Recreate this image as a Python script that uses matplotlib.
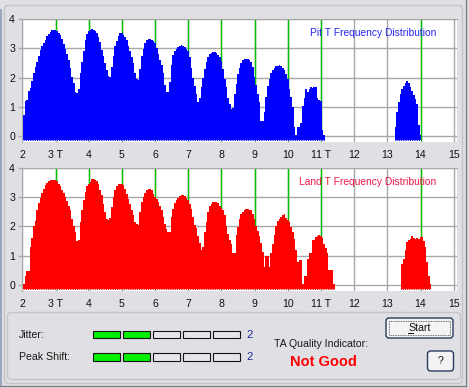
import numpy as np
import matplotlib
matplotlib.use('Agg')
import matplotlib.pyplot as plt
from matplotlib.patches import FancyBboxPatch, Rectangle

plt.rcParams['font.family'] = ['Liberation Sans', 'DejaVu Sans']

# histogram bins are 0.05 T wide
BIN = 0.05
pit_start = 2.00
pit_vals = [0.62, 0.72, 1.2, 1.23, 1.55, 1.65, 1.9, 2.15, 2.35, 2.55,
            2.75, 2.95, 3.1, 3.2, 3.3, 3.42, 3.5, 3.57, 3.63, 3.64,
            3.63, 3.6, 3.53, 3.45, 3.33, 3.15, 2.97, 2.8, 2.59, 2.32,
            2.02, 1.8, 1.52, 1.46, 1.6, 2.15, 2.55, 2.9, 3.3, 3.5,
            3.6, 3.64, 3.67, 3.65, 3.6, 3.52, 3.4, 3.22, 2.95, 2.75,
            2.5, 2.25, 2.05, 2.03, 2.35, 2.75, 3.08, 3.25, 3.42, 3.52,
            3.52, 3.47, 3.38, 3.28, 3.1, 2.9, 2.7, 2.5, 2.15, 1.95,
            1.92, 2.3, 2.75, 2.98, 3.18, 3.3, 3.33, 3.33, 3.3, 3.25,
            3.17, 3.02, 2.8, 2.6, 2.44, 2.15, 1.75, 1.52, 1.49, 1.86,
            2.44, 2.76, 2.9, 2.98, 3.06, 3.1, 3.13, 3.1, 3.05, 2.98,
            2.9, 2.69, 2.34, 1.98, 1.71, 1.43, 1.15, 1.29, 1.66, 2.0,
            2.3, 2.53, 2.71, 2.8, 2.85, 2.87, 2.87, 2.84, 2.78, 2.69,
            2.57, 2.3, 1.95, 1.66, 1.31, 1.08, 0.92, 0.94, 1.43, 1.77,
            2.11, 2.34, 2.49, 2.59, 2.63, 2.64, 2.64, 2.6, 2.53, 2.38,
            2.03, 1.75, 1.43, 1.17, 0.51, 0.51, 0.83, 1.34, 1.72, 1.95,
            2.15, 2.26, 2.34, 2.39, 2.41, 2.44, 2.4, 2.34, 2.26, 2.11,
            1.95, 1.61, 1.34, 1.0, 0.31, 0.02, 0.31, 0.31, 0.43, 1.03,
            1.29, 1.61, 1.49, 1.61, 1.66, 1.63, 1.68, 1.66, 1.29, 1.23,
            1.2, 0.2, 0.02]
pit14_start = 13.25
pit14_vals = [0.31, 0.83, 1.15, 1.43, 1.61, 1.72, 1.8, 1.89, 1.8, 1.66,
              1.54, 1.4, 1.26, 1.08, 0.37, 0.02]

land_start = 2.00
land_vals = [0.02, 0.02, 0.31, 0.48, 0.48, 1.3, 1.6, 2.03, 2.2, 2.55,
             2.8, 2.99, 3.15, 3.3, 3.41, 3.51, 3.56, 3.59, 3.6, 3.61,
             3.59, 3.55, 3.47, 3.38, 3.26, 3.15, 3.01, 2.87, 2.72, 2.55,
             2.26, 2.03, 1.8, 1.49, 1.55, 2.15, 2.55, 2.9, 3.18, 3.39,
             3.45, 3.53, 3.62, 3.64, 3.61, 3.56, 3.45, 3.26, 3.07, 2.78,
             2.49, 2.26, 2.23, 2.3, 2.67, 3.01, 3.24, 3.38, 3.45, 3.47,
             3.47, 3.41, 3.3, 3.13, 2.95, 2.78, 2.57, 2.38, 2.15, 2.07,
             2.06, 2.49, 2.84, 3.01, 3.15, 3.24, 3.28, 3.29, 3.24, 3.1,
             3.03, 2.95, 2.84, 2.69, 2.55, 2.34, 2.09, 1.92, 1.8, 1.8,
             2.32, 2.6, 2.8, 2.92, 2.99, 3.05, 3.07, 3.08, 3.05, 2.99,
             2.92, 2.76, 2.61, 2.32, 2.06, 1.95, 1.66, 1.43, 1.2, 1.3,
             1.8, 2.15, 2.49, 2.69, 2.78, 2.83, 2.84, 2.83, 2.8, 2.72,
             2.64, 2.55, 2.41, 2.03, 1.75, 1.54, 1.4, 1.08, 1.1, 1.69,
             1.98, 2.26, 2.44, 2.49, 2.55, 2.59, 2.59, 2.57, 2.55, 2.44,
             2.26, 2.03, 1.86, 1.66, 1.43, 1.11, 0.62, 0.97, 0.97, 0.62,
             1.08, 1.4, 1.69, 2.03, 2.18, 2.26, 2.32, 2.38, 2.44, 2.3,
             2.23, 2.15, 1.98, 1.8, 1.57, 1.2, 0.77, 0.85, 0.85, 0.02,
             0.31, 0.31, 0.89, 1.08, 1.08, 1.52, 1.52, 1.65, 1.67, 1.7,
             1.68, 1.6, 1.4, 1.25, 1.1, 0.51, 0.51, 0.51, 0.02]
land14_start = 13.45
land14_vals = [0.71, 0.89, 1.2, 1.46, 1.52, 1.56, 1.66, 1.61, 1.58, 1.6,
               1.58, 1.63, 1.62, 1.5, 1.3, 0.77, 0.31, 0.02]

xticks = list(range(2, 16))
xlabels = ['2', '3 T', '4', '5', '6', '7', '8', '9', '10', '11 T', '12', '13', '14', '15']
t_marks = [3, 4, 5, 6, 7, 8, 9, 10, 11, 14]

jitter_level = 2
peak_shift_level = 2
quality = 'Not Good'

W, H = 469, 388
BG = '#E0DFE3'
BASE = -0.17

fig = plt.figure(figsize=(W / 100, H / 100), dpi=100, facecolor=BG)

# pixel-space layer for the dialog furniture
ui = fig.add_axes([0, 0, 1, 1])
ui.set_xlim(0, W)
ui.set_ylim(H, 0)
ui.axis('off')

ui.add_patch(FancyBboxPatch((4.5, 5.5), 458, 378, boxstyle='round,pad=0,rounding_size=4',
                            fc='none', ec='#C4C4CA', lw=1))
ui.add_patch(FancyBboxPatch((7.5, 312.5), 453, 67, boxstyle='round,pad=0,rounding_size=4',
                            fc='none', ec='#C4C4CA', lw=1))
ui.plot([0.5, 0.5], [10, 386], color='#8C9BBA', lw=1.2)
ui.plot([466, 466], [0, 386], color='#808087', lw=1)
ui.plot([0, 466], [386, 386], color='#808087', lw=1)


def make_panel(rect_px, starts, series, color, title, title_color):
    left, top, right, bottom = rect_px
    ax = fig.add_axes([left / W, 1 - bottom / H, (right - left) / W, (bottom - top) / H])
    ax.set_facecolor('white')
    for s, vals in zip(starts, series):
        edges = s - BIN / 2 + BIN * np.arange(len(vals) + 1)
        ax.stairs(vals, edges, baseline=BASE, fill=True, color=color, lw=0, zorder=2)
        ax.hlines(BASE + 0.02, edges[0], edges[-1], color='white', lw=0.8,
                  linestyles=(0, (1, 1)), zorder=3)
    ax.vlines(t_marks, BASE, 4, color='#00C000', lw=1, zorder=1.5)
    ax.set_xlim(1.99, 15.1)
    ax.set_ylim(-0.21, 4.0)
    ax.set_xticks(xticks)
    ax.set_xticklabels(xlabels)
    ax.set_yticks([0, 1, 2, 3, 4])
    ax.grid(color='#A8A8A8', lw=1, zorder=0)
    ax.set_axisbelow(True)
    for side in ['right', 'bottom']:
        ax.spines[side].set_visible(False)
    for side in ['left', 'top']:
        ax.spines[side].set_color('#A8A8A8')
    ax.tick_params(axis='x', length=0, pad=6, labelsize=7.6, colors='#101010')
    ax.tick_params(axis='y', length=3, width=1, pad=2, labelsize=7.6,
                   color='#A8A8A8', labelcolor='#101010')
    ax.text(0.952, 0.885, title, transform=ax.transAxes, ha='right', va='center',
            fontsize=7.4, color=title_color)
    return ax


make_panel((22, 19.3, 457, 142), [pit_start, pit14_start], [pit_vals, pit14_vals],
           '#0000FF', 'Pit T Frequency Distribution', '#2828F0')
make_panel((22, 168.3, 457, 290.7), [land_start, land14_start], [land_vals, land14_vals],
           '#FF0000', 'Land T Frequency Distribution', '#F01848')

# bottom panel
txt = dict(fontsize=7.6, color='#1A1A1A', va='center')
for label, level, y in [('Jitter:', jitter_level, 334.5), ('Peak Shift:', peak_shift_level, 357.2)]:
    ui.text(19, y, label, ha='left', **txt)
    for i in range(5):
        ui.add_patch(Rectangle((92.5 + 30 * i, y - 3.8), 27, 7.6,
                               fc='#00F000' if i < level else '#E6E6EA', ec='#151515', lw=0.8))
    ui.text(250, y, str(level), ha='center', va='center', fontsize=8.2, color='#1E2A9A')

ui.text(274, 344, 'TA Quality Indicator:', ha='left', **txt)
ui.text(323, 362, quality, ha='center', va='center', fontsize=10.5,
        fontweight='bold', color='#FF0000')

ui.add_patch(FancyBboxPatch((386, 318), 67, 20, boxstyle='round,pad=0,rounding_size=3',
                            fc='#F3F3F6', ec='#2A3C5C', lw=1))
ui.add_patch(Rectangle((389, 321), 61, 14, fill=False, ec='#404040', lw=0.6, ls=(0, (1, 1))))
ui.text(419.5, 327.8, 'Start', ha='center', va='center', fontsize=7.6, color='#101010')
ui.plot([408.2, 413.2], [332.6, 332.6], color='#101010', lw=0.7)

ui.add_patch(FancyBboxPatch((427.5, 351), 26, 20, boxstyle='round,pad=0,rounding_size=3',
                            fc='#F3F3F6', ec='#2A3C5C', lw=1))
ui.text(440.5, 361, '?', ha='center', va='center', fontsize=7.6, color='#101010')

fig.savefig('out.png', dpi=100, facecolor=BG)
